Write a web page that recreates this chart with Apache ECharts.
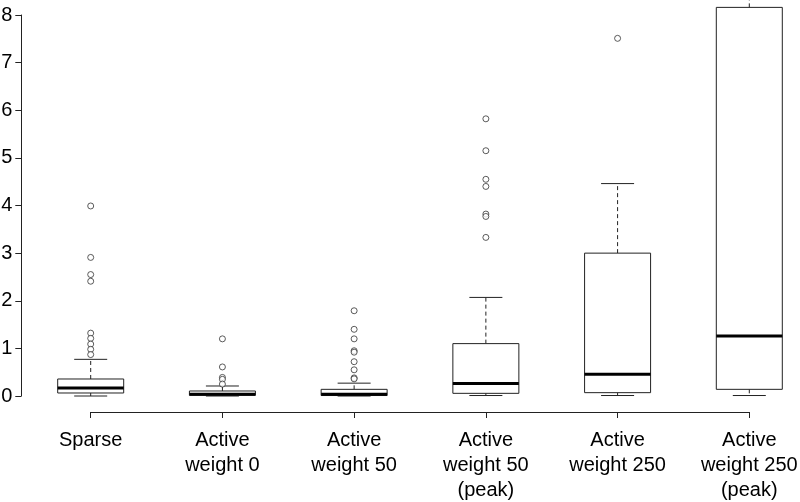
<!DOCTYPE html>
<html>
<head>
<meta charset="utf-8">
<script src="https://cdn.jsdelivr.net/npm/echarts@6/dist/echarts.min.js"></script>
<style>html,body{margin:0;padding:0;background:#fff}#c{width:800px;height:502px}</style>
</head>
<body>
<div id="c"></div>
<script>
const categories = ['Sparse', 'Active\nweight 0', 'Active\nweight 50', 'Active\nweight 50\n(peak)', 'Active\nweight 250', 'Active\nweight 250\n(peak)'];
const whiskerLow = [0, 0, 0, 0.01, 0.01, 0.01];
const q1 = [0.063, 0.015, 0.01, 0.056, 0.07, 0.14];
const median = [0.168, 0.035, 0.035, 0.26, 0.455, 1.26];
const q3 = [0.357, 0.105, 0.14, 1.10, 3.00, 8.16];
const whiskerHigh = [0.77, 0.21, 0.27, 2.07, 4.46, 10.5];
const outliers = [
  [3.99, 2.91, 2.55, 2.41, 1.32, 1.21, 1.09, 0.98, 0.87],
  [1.20, 0.61, 0.39, 0.35, 0.25],
  [1.79, 1.40, 1.20, 0.95, 0.92, 0.72, 0.55, 0.38, 0.36],
  [5.82, 5.15, 4.55, 4.40, 3.82, 3.77, 3.33],
  [7.51],
  []
];
const yTicks = [0, 1, 2, 3, 4, 5, 6, 7, 8];

const boxData = categories.map((c, i) => [i, whiskerLow[i], q1[i], median[i], q3[i], whiskerHigh[i]]);
const outlierData = [];
outliers.forEach((arr, i) => arr.forEach(v => outlierData.push([i, v])));

const FONT = 'Liberation Sans, Arial, sans-serif';
const LINE = '#222';

const chart = echarts.init(document.getElementById('c'), null, {renderer: 'canvas'});
chart.setOption({
  animation: false,
  backgroundColor: '#fff',
  grid: {left: 90.7, right: 50.7, top: 15, bottom: 106, containLabel: false, outerBoundsMode: 'none'},
  xAxis: {
    type: 'category',
    data: categories,
    boundaryGap: false,
    offset: 16,
    axisLine: {show: true, onZero: false, lineStyle: {color: LINE, width: 1}},
    axisTick: {show: true, length: 6, lineStyle: {color: LINE}},
    axisLabel: {interval: 0, color: '#000', fontSize: 20, lineHeight: 25, margin: 16, fontFamily: FONT},
    splitLine: {show: false}
  },
  yAxis: {
    type: 'value',
    min: yTicks[0],
    max: yTicks[yTicks.length - 1],
    interval: 1,
    offset: 69.4,
    axisLine: {show: true, onZero: false, lineStyle: {color: LINE, width: 1}},
    axisTick: {show: true, length: 6, lineStyle: {color: LINE, width: 1}},
    axisLabel: {color: '#000', fontSize: 20, margin: 9, fontFamily: FONT},
    splitLine: {show: false}
  },
  series: [
    {
      type: 'custom',
      data: boxData,
      encode: {x: 0, y: [1, 2, 3, 4, 5]},
      clip: false,
      renderItem: function (params, api) {
        const i = api.value(0);
        const cx = api.coord([i, 0])[0];
        const yLo = api.coord([i, api.value(1)])[1];
        const yQ1 = api.coord([i, api.value(2)])[1];
        const yMed = api.coord([i, api.value(3)])[1];
        const yQ3 = api.coord([i, api.value(4)])[1];
        const yHi = api.coord([i, api.value(5)])[1];
        const hw = 33, cw = 16.5;
        const thin = {stroke: LINE, lineWidth: 1, fill: null};
        const dashed = {stroke: LINE, lineWidth: 1, lineDash: [4, 3], fill: null};
        return {
          type: 'group',
          children: [
            {type: 'line', shape: {x1: cx, y1: yQ3, x2: cx, y2: yHi}, style: dashed},
            {type: 'line', shape: {x1: cx, y1: yQ1, x2: cx, y2: yLo}, style: dashed},
            {type: 'line', shape: {x1: cx - cw, y1: yHi, x2: cx + cw, y2: yHi}, style: thin},
            {type: 'line', shape: {x1: cx - cw, y1: yLo, x2: cx + cw, y2: yLo}, style: thin},
            {type: 'rect', shape: {x: cx - hw, y: yQ3, width: 2 * hw, height: yQ1 - yQ3}, style: {fill: '#fff', stroke: LINE, lineWidth: 1}},
            {type: 'line', shape: {x1: cx - hw, y1: yMed, x2: cx + hw, y2: yMed}, style: {stroke: '#000', lineWidth: 3}}
          ]
        };
      }
    },
    {
      type: 'scatter',
      data: outlierData,
      symbol: 'circle',
      symbolSize: 6,
      itemStyle: {color: '#fff', borderColor: '#333', borderWidth: 1},
      z: 3
    }
  ]
});
</script>
</body>
</html>
